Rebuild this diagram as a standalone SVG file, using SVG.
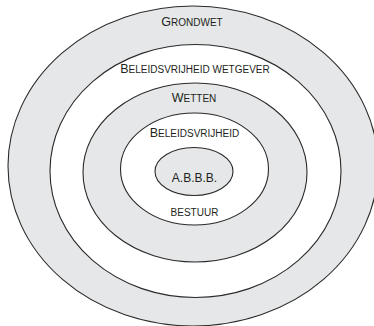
<svg xmlns="http://www.w3.org/2000/svg" width="374" height="326" viewBox="0 0 374 326">
<style>
.ring{stroke:#2a2a2a;stroke-width:1.1}
.g{fill:#e6e7e8}
.w{fill:#ffffff}
text{font-family:"Liberation Sans",Arial,sans-serif;fill:#231f20;text-anchor:middle;font-size:10px}
.cap{font-size:12.5px}
</style>
<rect width="374" height="326" fill="#ffffff"/>
<g id="grondwet">
<ellipse class="ring g" cx="193" cy="166" rx="185" ry="160"/>
<text x="192" y="26"><tspan class="cap">G</tspan>RONDWET</text>
</g>
<g id="beleidsvrijheid-wetgever">
<ellipse class="ring w" cx="195.5" cy="171" rx="145.5" ry="126.5"/>
<text x="195" y="73"><tspan class="cap">B</tspan>ELEIDSVRIJHEID WETGEVER</text>
</g>
<g id="wetten">
<ellipse class="ring g" cx="195" cy="172.5" rx="112" ry="89.5"/>
<text x="194" y="102"><tspan class="cap">W</tspan>ETTEN</text>
</g>
<g id="beleidsvrijheid-bestuur">
<ellipse class="ring w" cx="194.5" cy="169" rx="74" ry="56"/>
<text x="194.5" y="137"><tspan class="cap">B</tspan>ELEIDSVRIJHEID</text>
<text x="194.5" y="216">BESTUUR</text>
</g>
<g id="abbb">
<ellipse class="ring g" cx="194" cy="171.5" rx="39" ry="24"/>
<text x="194.5" y="182" style="font-size:12px">A.B.B.B.</text>
</g>
<g id="connectors"/>
</svg>
